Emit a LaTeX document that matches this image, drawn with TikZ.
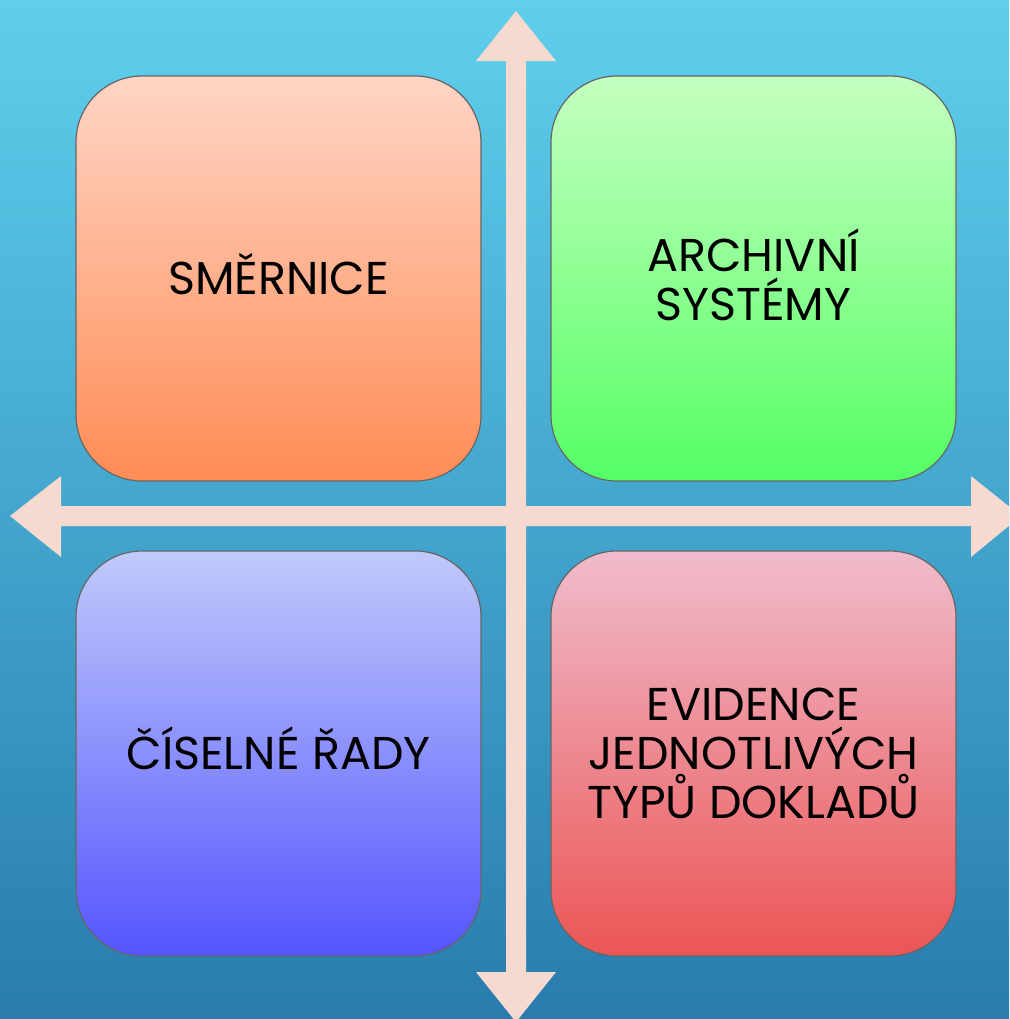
\documentclass[tikz,border=0pt]{standalone}
\usepackage{fontspec}
\setmainfont{Poppins}
\definecolor{bgtop}{RGB}{95,207,236}
\definecolor{bgbottom}{RGB}{40,124,174}
\definecolor{axiscol}{RGB}{246,218,208}
\begin{document}
\begin{tikzpicture}[x=0.5pt,y=-0.5pt,
  quad/.style={draw=black!60,line width=0.6pt,rounded corners=33pt,
    minimum width=202.5pt,minimum height=202.5pt,align=center,
    font=\fontsize{23}{24.5}\selectfont,text=black},
  axis/.style={fill=axiscol}]
\useasboundingbox (0,0) rectangle (1009,1019);
\clip (0,0) rectangle (1009,1019);
% background
\shade[top color=bgtop,bottom color=bgbottom] (0,0) rectangle (1009,1019);
% the four boxes
\node[quad,text depth=5pt,top color={rgb,255:red,255;green,213;blue,197},bottom color={rgb,255:red,255;green,140;blue,85}] (smernice) at (278.5,278.5) {SMĚRNICE};
\node[quad,text depth=4pt,top color={rgb,255:red,196;green,255;blue,192},bottom color={rgb,255:red,85;green,255;blue,100}] (archiv) at (753.5,278.5) {ARCHIVNÍ\\SYSTÉMY};
\node[quad,text depth=5pt,top color={rgb,255:red,192;green,202;blue,250},bottom color={rgb,255:red,85;green,85;blue,255}] (rady) at (278.5,753.5) {ČÍSELNÉ ŘADY};
\node[quad,top color={rgb,255:red,240;green,188;blue,204},bottom color={rgb,255:red,235;green,85;blue,85}] (evidence) at (753.5,753.5) {EVIDENCE\\JEDNOTLIVÝCH\\TYPŮ DOKLADŮ};
% cross of arrows
\fill[axis](516,11)--(556,61)--(526,61)--(526,972)--(556,972)--(516,1022)--(476,972)--(506,972)--(506,61)--(476,61)--cycle;
\fill[axis](10,516)--(61,476)--(61,506)--(971,506)--(971,476)--(1021,516)--(971,557)--(971,526)--(61,526)--(61,557)--cycle;
\end{tikzpicture}
\end{document}
